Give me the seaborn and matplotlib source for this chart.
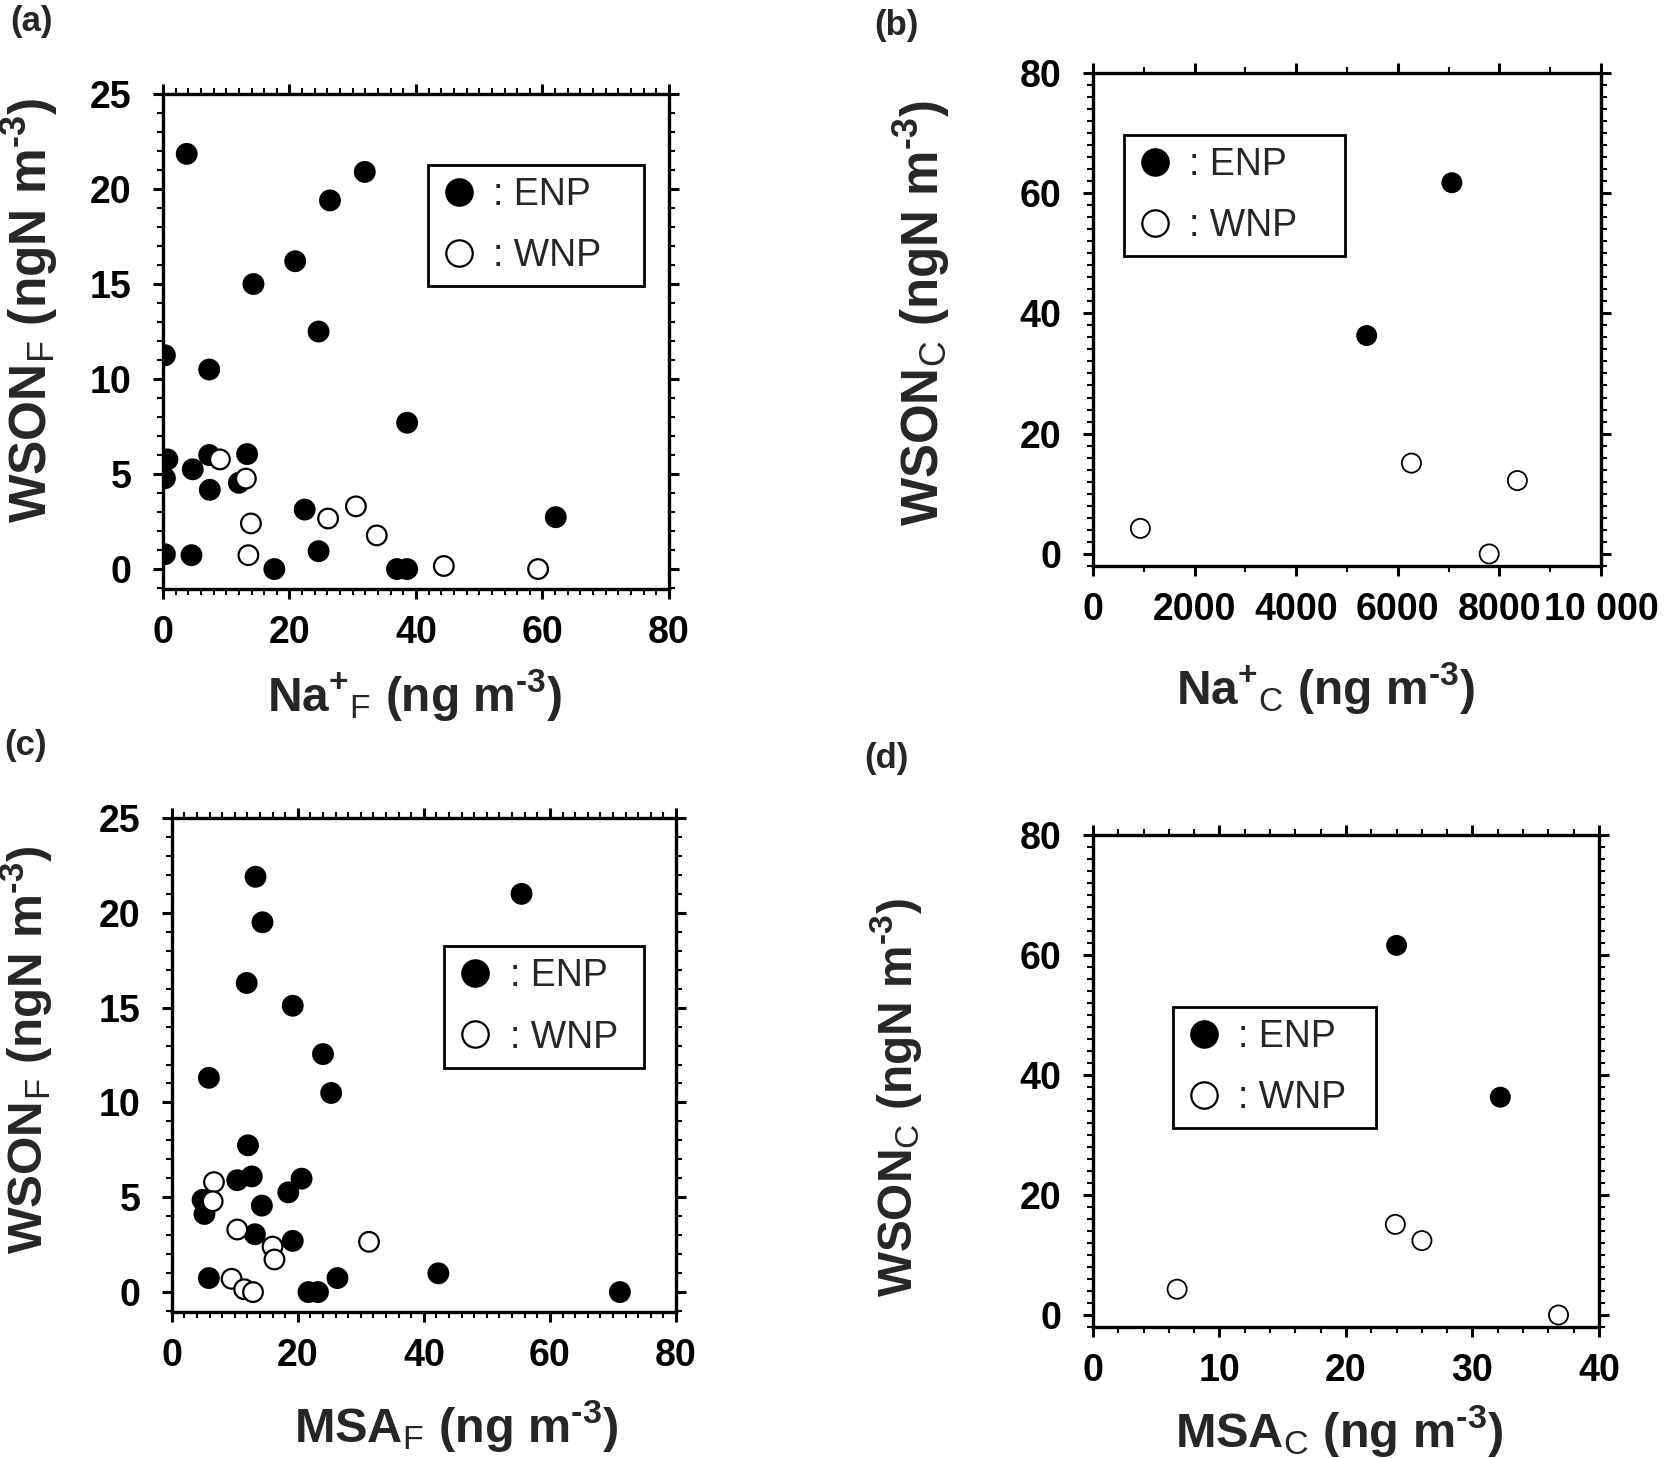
import numpy as np
import pandas as pd
import matplotlib
matplotlib.use("Agg")
import matplotlib.pyplot as plt
import seaborn as sns
from matplotlib.ticker import MultipleLocator, FixedLocator, FixedFormatter
from matplotlib.lines import Line2D
from matplotlib.patches import Rectangle

# ---------------- data ----------------
# (a) WSON_F vs Na+_F
a_enp_x = [3.75, 31.9, 26.4, 20.9, 14.3, 24.6, 0.3, 7.3, 38.6, 0.7, 4.7, 0.3,
           7.3, 13.3, 7.4, 12.0, 22.4, 62.1, 0.3, 4.5, 24.6, 17.6, 37.0, 38.6]
a_enp_y = [21.85, 20.9, 19.4, 16.2, 15.0, 12.5, 11.25, 10.5, 7.7, 5.77, 5.25, 4.78,
           6.0, 6.05, 4.17, 4.54, 3.13, 2.73, 0.78, 0.73, 0.94, 0.0, 0.0, 0.0]
a_wnp_x = [9.0, 13.1, 13.9, 26.1, 30.5, 33.8, 13.5, 44.4, 59.3]
a_wnp_y = [5.77, 4.76, 2.4, 2.66, 3.3, 1.77, 0.73, 0.16, 0.0]

# (b) WSON_C vs Na+_C
b_enp_x = [7065, 5388]
b_enp_y = [61.7, 36.3]
b_wnp_x = [933, 6268, 8354, 7799]
b_wnp_y = [4.25, 15.1, 12.2, 0.0]

# (c) WSON_F vs MSA_F
c_enp_x = [13.3, 55.5, 14.4, 11.9, 19.2, 24.0, 5.9, 25.3, 12.1, 10.4, 12.7, 20.6,
           18.5, 4.9, 5.2, 14.3, 13.2, 19.2, 5.9, 21.7, 23.2, 26.3, 42.3, 71.1]
c_enp_y = [21.9, 21.0, 19.5, 16.3, 15.1, 12.55, 11.3, 10.5, 7.74, 5.9, 6.1, 5.98,
           5.26, 4.86, 4.12, 4.56, 3.05, 2.7, 0.74, 0.0, 0.0, 0.74, 0.99, 0.0]
c_wnp_x = [6.7, 6.5, 10.4, 16.0, 16.3, 31.3, 9.5, 11.5, 12.9]
c_wnp_y = [5.8, 4.79, 3.3, 2.4, 1.72, 2.65, 0.7, 0.15, 0.0]

# (d) WSON_C vs MSA_C
d_enp_x = [24.0, 32.2]
d_enp_y = [61.6, 36.3]
d_wnp_x = [6.65, 23.9, 26.0, 36.8]
d_wnp_y = [4.3, 15.1, 12.4, 0.0]

groups = ["ENP", "WNP"]
b_xticklabels = ["0", "2000", "4000", "6000", "8000", "10 000"]

# ---------------- style ----------------
sns.set_theme(style="white")
plt.rcParams["font.family"] = ["Liberation Sans", "DejaVu Sans"]
plt.rcParams["mathtext.fontset"] = "custom"
plt.rcParams["mathtext.rm"] = "Liberation Sans"
plt.rcParams["mathtext.bf"] = "Liberation Sans:bold"
plt.rcParams["mathtext.it"] = "Liberation Sans:italic"
plt.rcParams["mathtext.default"] = "bf"

W, H = 1674, 1458
fig = plt.figure(figsize=(W / 100, H / 100), dpi=100)
fig.patch.set_facecolor("white")

HY = "\u2010"  # hyphen for the superscript


def frac_rect(l, r, t, b):
    return [l / W, 1 - b / H, (r - l) / W, (b - t) / H]


def make_df(ex, ey, wx, wy):
    return pd.DataFrame({
        "x": list(ex) + list(wx),
        "y": list(ey) + list(wy),
        "group": [groups[0]] * len(ex) + [groups[1]] * len(wx),
    })


unit = r" (ng m$^{" + HY + r"3}$)"
yunit = r" (ngN m$^{" + HY + r"3}$)"

panels = [
    dict(px=(163, 669, 94, 589), data=(a_enp_x, a_enp_y, a_wnp_x, a_wnp_y),
         xlim=(0, 80), ylim=(-1.05, 25), xmaj=20, xmin=2, ymaj=5, ymin=1,
         xlabel=r"Na$^{+}$$_{\mathrm{F}}$" + unit, xfs=34.5,
         ylabel=r"WSON$_{\mathrm{F}}$" + yunit, yfs=37,
         xlab=(0.498, -0.215), ylab=(-0.264, 0.564),
         box=(428, 644, 165, 286),
         s=200, lw=1.6, tag="(a)", tagpos=(10, 5)),
    dict(px=(1093, 1601, 72.6, 566), data=(b_enp_x, b_enp_y, b_wnp_x, b_wnp_y),
         xlim=(0, 10000), ylim=(-2, 80), xmaj=2000, xmin=1000, ymaj=20, ymin=2,
         xlabel=r"Na$^{+}$$_{\mathrm{C}}$" + unit, xfs=34.5,
         ylabel=r"WSON$_{\mathrm{C}}$" + yunit, yfs=36.7,
         xlab=(0.457, -0.248), ylab=(-0.337, 0.513),
         box=(1124, 1345, 134.5, 256),
         s=190, lw=1.3, tag="(b)", tagpos=(874, 9)),
    dict(px=(171.7, 676, 818, 1312), data=(c_enp_x, c_enp_y, c_wnp_x, c_wnp_y),
         xlim=(0, 80), ylim=(-1.05, 25), xmaj=20, xmin=2, ymaj=5, ymin=1,
         xlabel=r"MSA$_{\mathrm{F}}$" + unit, xfs=35,
         ylabel=r"WSON$_{\mathrm{F}}$" + yunit, yfs=35.6,
         xlab=(0.564, -0.23), ylab=(-0.287, 0.530),
         box=(444, 644, 946, 1068),
         s=200, lw=1.6, tag="(c)", tagpos=(4, 729)),
    dict(px=(1093, 1599, 835, 1327), data=(d_enp_x, d_enp_y, d_wnp_x, d_wnp_y),
         xlim=(0, 40), ylim=(-2, 80), xmaj=10, xmin=2, ymaj=20, ymin=2,
         xlabel=r"MSA$_{\mathrm{C}}$" + unit, xfs=35,
         ylabel=r"WSON$_{\mathrm{C}}$" + yunit, yfs=34.4,
         xlab=(0.486, -0.212), ylab=(-0.390, 0.467),
         box=(1173, 1376, 1007, 1128),
         s=190, lw=1.3, tag="(d)", tagpos=(864, 742)),
]

palette = {"ENP": "black", "WNP": "white"}
LEG_FS = 27  # pt
LEG_FS_PX = LEG_FS * 100 / 72

for p in panels:
    l, r, t, b = p["px"]
    ax = fig.add_axes(frac_rect(l, r, t, b))
    aw, ah = r - l, b - t
    df = make_df(*p["data"])
    sns.scatterplot(data=df, x="x", y="y", hue="group", palette=palette,
                    edgecolor="black", linewidth=p["lw"], s=p["s"], ax=ax,
                    legend=False, zorder=3)
    ax.set_xlim(*p["xlim"])
    ax.set_ylim(*p["ylim"])
    ax.xaxis.set_major_locator(MultipleLocator(p["xmaj"]))
    ax.xaxis.set_minor_locator(MultipleLocator(p["xmin"]))
    ax.yaxis.set_major_locator(MultipleLocator(p["ymaj"]))
    ax.yaxis.set_minor_locator(MultipleLocator(p["ymin"]))
    if p["tag"] == "(b)":
        ax.xaxis.set_major_locator(FixedLocator([0, 2000, 4000, 6000, 8000, 10000]))
        ax.xaxis.set_major_formatter(FixedFormatter(b_xticklabels))
    for sp in ax.spines.values():
        sp.set_linewidth(2.4)
        sp.set_color("black")
        sp.set_visible(True)
        sp.set_zorder(4)
    ax.tick_params(which="both", direction="out", top=True, right=True,
                   bottom=True, left=True, labeltop=False, labelright=False,
                   colors="black")
    ax.tick_params(which="major", length=7.5, width=2.2)
    ax.tick_params(which="minor", length=4.2, width=1.5)
    ax.tick_params(axis="x", which="major", pad=11)
    ax.tick_params(axis="y", which="major", pad=15)
    for lab in ax.get_xticklabels() + ax.get_yticklabels():
        lab.set_fontsize(27)
        lab.set_fontweight("bold")

    ax.set_xlabel(p["xlabel"], fontsize=p["xfs"], fontweight="bold", va="center", ha="center")
    ax.set_ylabel(p["ylabel"], fontsize=p["yfs"], fontweight="bold", va="center", ha="center")
    ax.xaxis.set_label_coords(*p["xlab"])
    ax.yaxis.set_label_coords(*p["ylab"])

    # legend frame (square box) drawn in axes coordinates
    bl, br, bt, bb = p["box"]
    x0 = (bl - l) / aw
    x1 = (br - l) / aw
    y0 = (b - bb) / ah
    y1 = (b - bt) / ah
    ax.add_patch(Rectangle((x0, y0), x1 - x0, y1 - y0, transform=ax.transAxes,
                           facecolor="white", edgecolor="black", linewidth=2.0,
                           zorder=4, clip_on=False))

    handles = [
        Line2D([], [], ls="", marker="o", markersize=19, markerfacecolor="black",
               markeredgecolor="black", markeredgewidth=1.6),
        Line2D([], [], ls="", marker="o", markersize=19, markerfacecolor="white",
               markeredgecolor="black", markeredgewidth=1.6),
    ]
    hl = 1.0
    anchor_x = (bl + 31 - hl * LEG_FS_PX / 2 - l) / aw
    anchor_y = (y0 + y1) / 2
    leg = ax.legend(handles, [": " + g for g in groups], loc="center left",
                    bbox_to_anchor=(anchor_x, anchor_y), frameon=False,
                    fontsize=LEG_FS, handletextpad=0.42, handlelength=hl,
                    borderpad=0.0, labelspacing=0.67, borderaxespad=0.0)
    leg.set_zorder(5)

    fig.text(p["tagpos"][0] / W, 1 - p["tagpos"][1] / H, p["tag"], fontsize=25,
             fontweight="bold", ha="left", va="top")

fig.savefig("out.png", dpi=100, facecolor="white")
